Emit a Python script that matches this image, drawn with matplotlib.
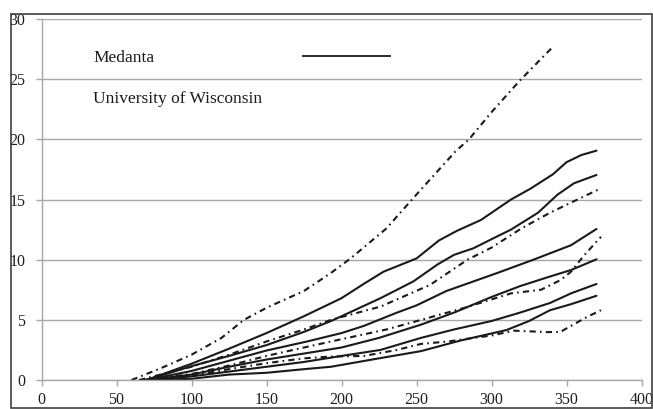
import matplotlib
matplotlib.use("Agg")
import matplotlib.pyplot as plt
from matplotlib.patches import Rectangle
from matplotlib.lines import Line2D

plt.rcParams['font.family'] = ['Liberation Serif', 'DejaVu Serif']
plt.rcParams['lines.scale_dashes'] = False

# Medanta (solid curves)
med1_x = [70, 100, 125, 150, 175, 200, 215, 228, 240, 250, 265, 277, 293, 313, 326, 341, 350, 360, 370]
med1_y = [0, 1.35, 2.6, 3.9, 5.3, 6.8, 8.0, 9.0, 9.6, 10.1, 11.6, 12.4, 13.3, 15.0, 15.9, 17.1, 18.1, 18.7, 19.06]
med2_x = [70, 100, 125, 150, 175, 193, 200, 226, 248, 264, 275, 288, 300, 313, 331, 344, 355, 370]
med2_y = [0, 1.15, 2.0, 2.9, 4.0, 4.9, 5.3, 6.8, 8.2, 9.6, 10.4, 10.95, 11.7, 12.5, 13.9, 15.4, 16.35, 17.04]
med3_x = [70, 100, 125, 150, 177, 200, 215, 237, 250, 270, 304, 328, 353, 370]
med3_y = [0, 0.75, 1.6, 2.45, 3.2, 3.9, 4.5, 5.6, 6.2, 7.4, 8.9, 10.0, 11.2, 12.55]
med4_x = [70, 100, 125, 150, 175, 200, 225, 253, 275, 300, 319, 339, 353, 370]
med4_y = [0, 0.45, 1.1, 1.7, 2.2, 2.7, 3.5, 4.6, 5.6, 6.9, 7.8, 8.6, 9.14, 10.03]
med5_x = [70, 100, 125, 150, 175, 200, 226, 253, 275, 300, 319, 339, 353, 370]
med5_y = [0, 0.3, 0.7, 1.1, 1.5, 2.0, 2.5, 3.5, 4.2, 4.9, 5.6, 6.4, 7.2, 7.98]
med6_x = [70, 100, 125, 150, 175, 193, 225, 253, 280, 310, 325, 339, 353, 370]
med6_y = [0, 0.1, 0.45, 0.6, 0.9, 1.1, 1.8, 2.4, 3.3, 4.15, 4.9, 5.8, 6.3, 7.0]

# University of Wisconsin (dash-dot curves)
uw1_x = [60, 80, 100, 120, 135, 150, 175, 193, 206, 230, 247, 276, 285, 301, 319, 341]
uw1_y = [0, 1.0, 2.1, 3.5, 5.0, 6.0, 7.4, 8.9, 10.1, 12.6, 15.0, 19.0, 20.0, 22.4, 24.9, 27.7]
uw2_x = [65, 100, 125, 150, 175, 193, 226, 259, 284, 300, 320, 339, 359, 373]
uw2_y = [0, 1.1, 2.1, 3.2, 4.2, 5.0, 6.1, 7.9, 10.0, 11.0, 12.6, 13.9, 15.1, 15.93]
uw3_x = [68, 100, 125, 150, 175, 193, 230, 259, 282, 313, 333, 346, 353, 362, 373]
uw3_y = [0, 0.5, 1.2, 2.0, 2.7, 3.2, 4.2, 5.2, 6.0, 7.2, 7.5, 8.3, 9.0, 10.4, 11.9]
uw4_x = [68, 100, 125, 150, 175, 193, 215, 237, 253, 271, 300, 315, 337, 346, 353, 364, 373]
uw4_y = [0, 0.35, 0.9, 1.4, 1.8, 1.95, 2.0, 2.5, 3.0, 3.2, 3.7, 4.1, 3.98, 4.0, 4.5, 5.26, 5.8]

medanta = [(med1_x, med1_y), (med2_x, med2_y), (med3_x, med3_y),
           (med4_x, med4_y), (med5_x, med5_y), (med6_x, med6_y)]
wisconsin = [(uw1_x, uw1_y), (uw2_x, uw2_y), (uw3_x, uw3_y), (uw4_x, uw4_y)]

legend_labels = ["Medanta", "University of Wisconsin"]
x_ticks = [0, 50, 100, 150, 200, 250, 300, 350, 400]
y_ticks = [0, 5, 10, 15, 20, 25, 30]

W, H = 653, 409
fig = plt.figure(figsize=(W / 100, H / 100), dpi=100)
ax = fig.add_axes([41.5 / W, 29 / H, 600 / W, 361 / H])

grey = '#a8a8a8'
ink = '#1a1a1a'
dashdot = (0, (4.5, 3.0, 1.2, 3.0))

for xs, ys in medanta:
    ax.plot(xs, ys, color=ink, lw=1.5, solid_capstyle='round')
for xs, ys in wisconsin:
    ax.plot(xs, ys, color=ink, lw=1.5, linestyle=dashdot)

ax.set_xlim(0, 400)
ax.set_ylim(0, 30)
ax.set_xticks(x_ticks)
ax.set_yticks(y_ticks)
ax.yaxis.grid(True, color=grey, lw=1.0)
ax.set_axisbelow(True)
for side in ['top', 'right']:
    ax.spines[side].set_visible(False)
for side in ['left', 'bottom']:
    ax.spines[side].set_color(grey)
    ax.spines[side].set_linewidth(1.0)
ax.tick_params(axis='both', colors=grey, length=4, width=1.0, labelsize=11.5,
               labelcolor='#1e1e1e')
ax.tick_params(axis='x', pad=4.5)
ax.tick_params(axis='y', pad=7.5)

# legend as in the reference: text labels, sample line only for Medanta
fig.text(93 / W, 1 - 58 / H, legend_labels[0], fontsize=12.5, va='center', color=ink)
fig.text(93 / W, 1 - 99 / H, legend_labels[1], fontsize=12.5, va='center', color=ink)
fig.add_artist(Line2D([303 / W, 390 / W], [1 - 56 / H, 1 - 56 / H],
                      transform=fig.transFigure, color=ink, lw=1.3))

# outer chart border
fig.add_artist(Rectangle((11 / W, 1 / H), 641 / W, 394 / H, transform=fig.transFigure,
                         fill=False, edgecolor='#404040', lw=1.2))

fig.savefig('out.png', dpi=100)
